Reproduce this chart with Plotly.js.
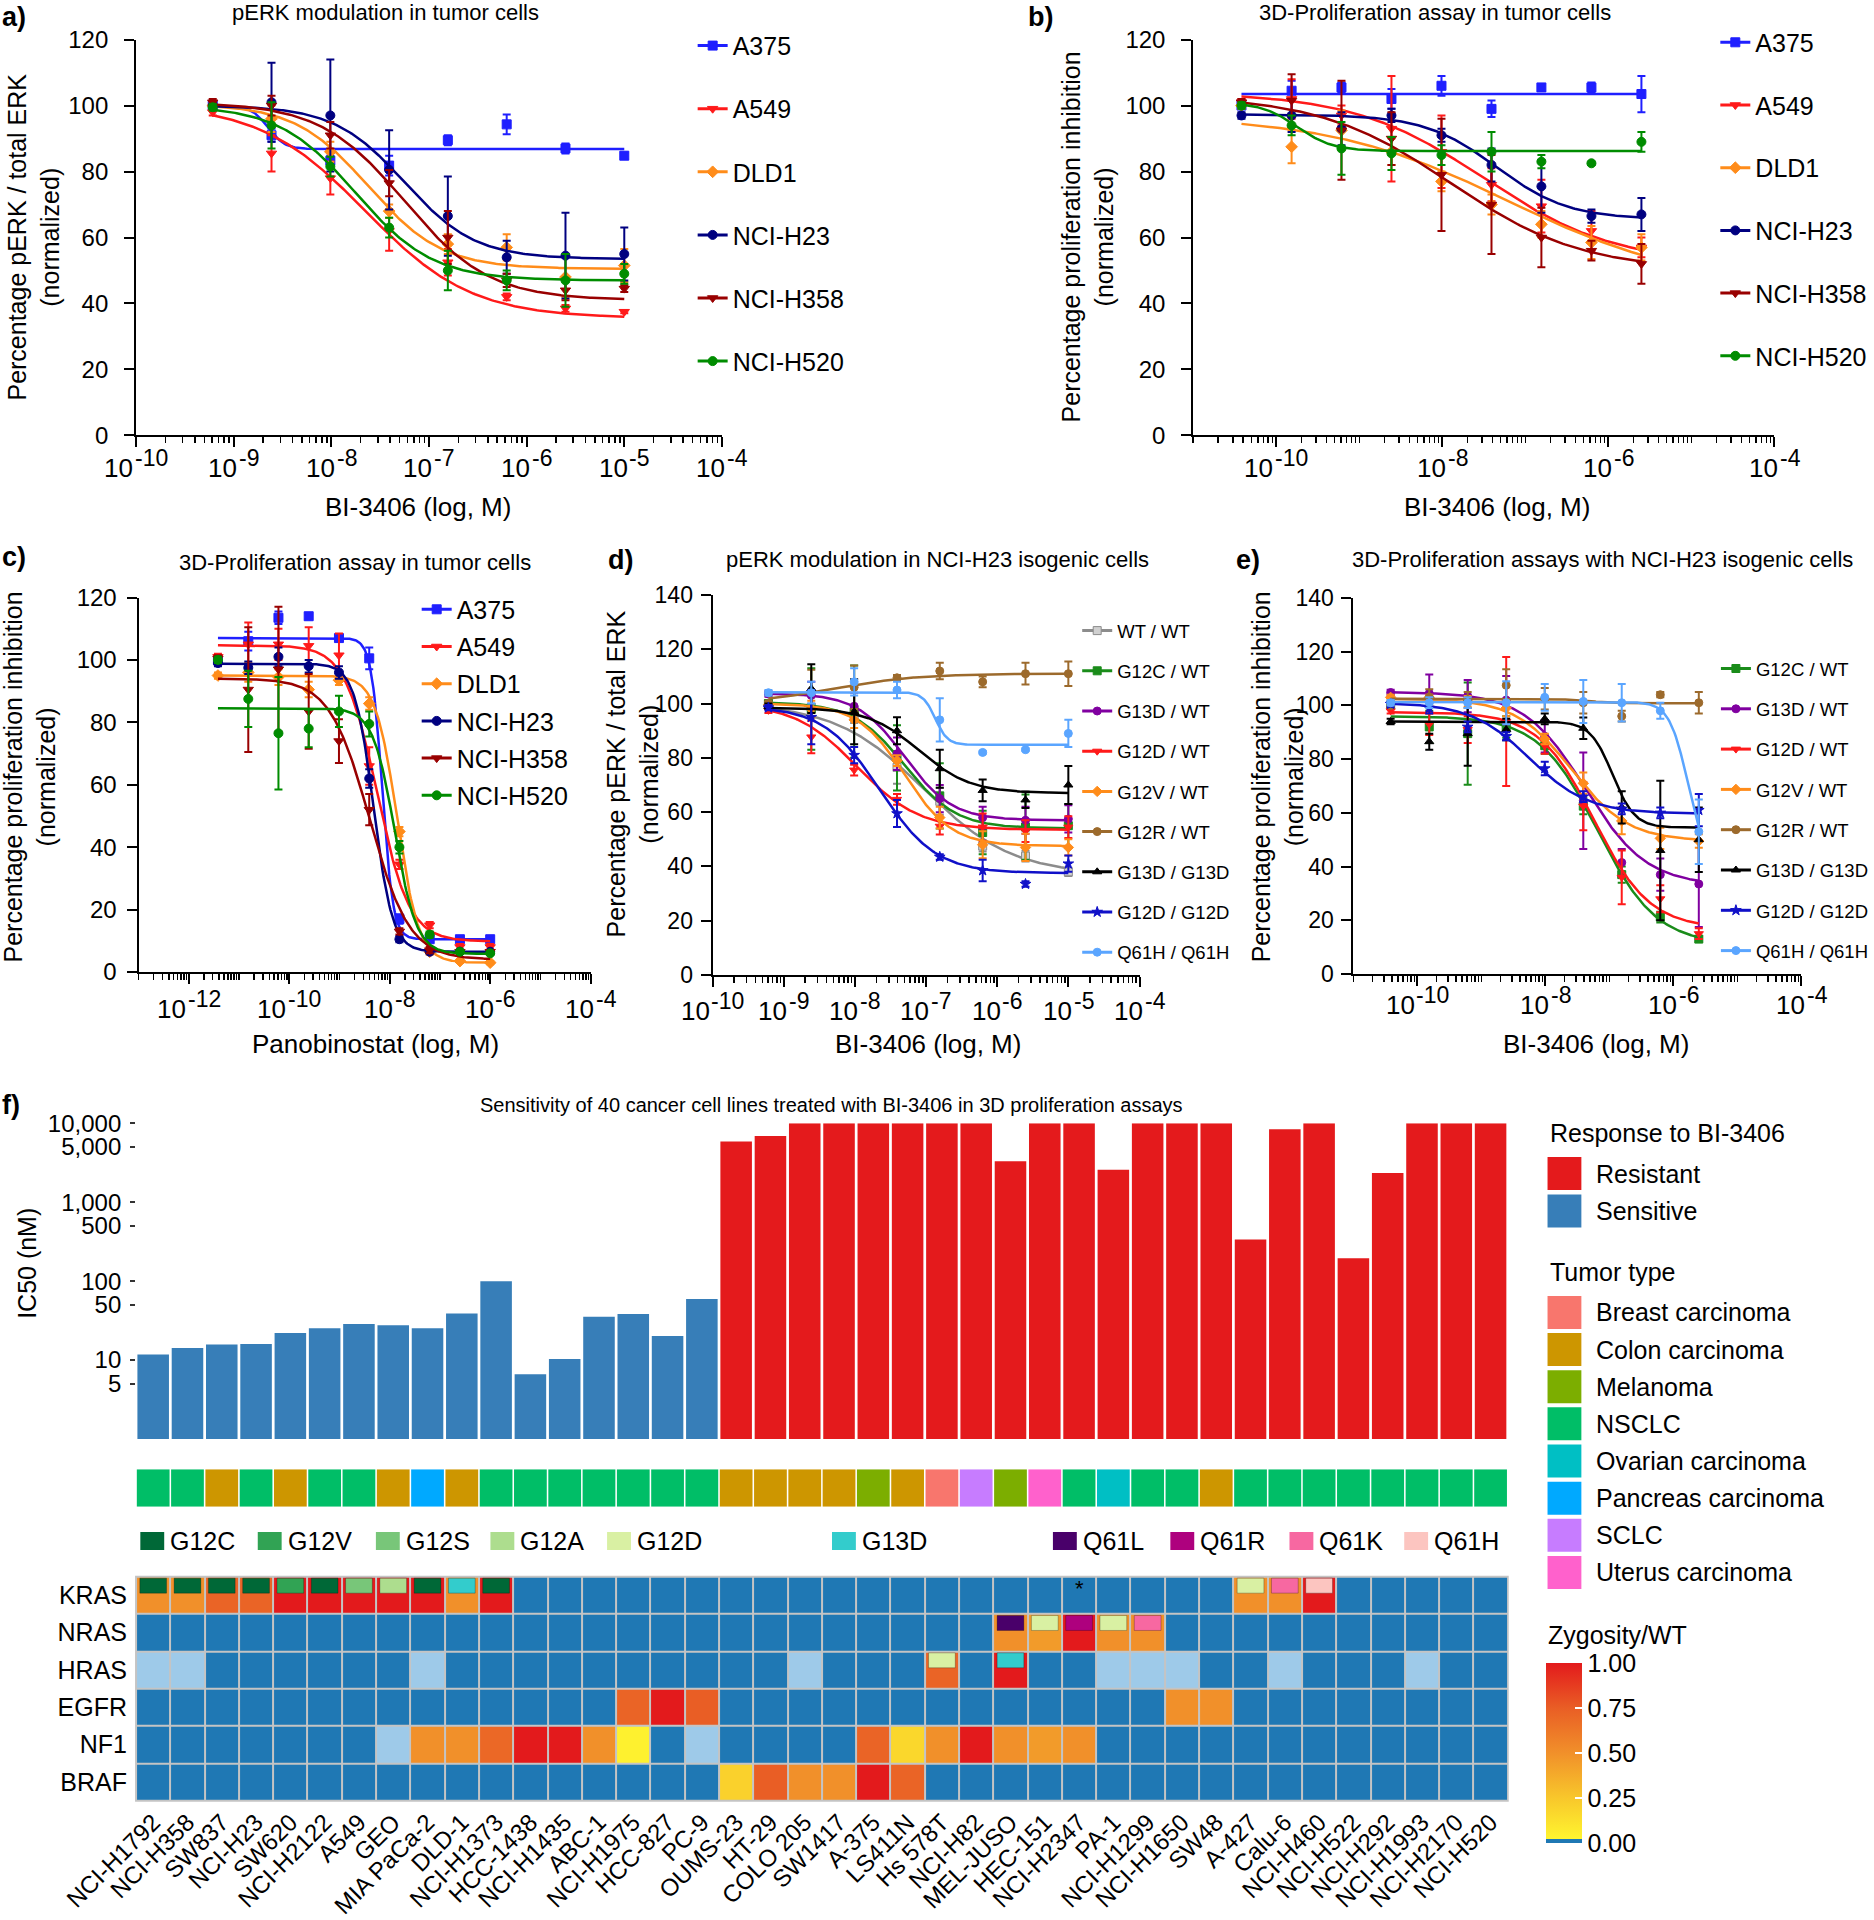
<!DOCTYPE html>
<html><head><meta charset="utf-8">
<script src="https://cdn.plot.ly/plotly-3.0.1.min.js"></script>
<style>html,body{margin:0;padding:0;background:#fff;}#chart{width:1874px;height:1920px;}</style>
</head><body><div id="chart"></div>
<script>
// ===================== DATA =====================
// concentrations (M)
const concA = [6.1e-10, 2.44e-9, 9.77e-9, 3.91e-8, 1.56e-7, 6.25e-7, 2.5e-6, 1e-5];
const concB = [3.81e-11, 1.53e-10, 6.1e-10, 2.44e-9, 9.77e-9, 3.91e-8, 1.56e-7, 6.25e-7, 2.5e-6];
const concC = [3.81e-12, 1.53e-11, 6.1e-11, 2.44e-10, 9.77e-10, 3.91e-9, 1.56e-8, 6.25e-8, 2.5e-7, 1e-6];

const cellLines = ['A375', 'A549', 'DLD1', 'NCI-H23', 'NCI-H358', 'NCI-H520'];
const isoLines = ['WT / WT', 'G12C / WT', 'G13D / WT', 'G12D / WT', 'G12V / WT', 'G12R / WT', 'G13D / G13D', 'G12D / G12D', 'Q61H / Q61H'];
const isoLinesE = ['G12C / WT', 'G13D / WT', 'G12D / WT', 'G12V / WT', 'G12R / WT', 'G13D / G13D', 'G12D / G12D', 'Q61H / Q61H'];

// decades labelled on the log-dose axes (exponents of 10)
const decadesA = [-10, -9, -8, -7, -6, -5, -4];
const decadesB = [-10, -8, -6, -4];
const decadesC = [-12, -10, -8, -6, -4];

// panel a: pERK modulation in tumor cells (mean, SD)
const a_mean = [
  [100, 91, 83.3, 81.8, 89.5, 94.3, 87, 84.8],
  [98, 85.5, 78, 62, 52.5, 42, 38.5, 37.5],
  [100, 96, 86, 68, 58, 57, 48, 51.5],
  [100, 101, 97, 80.5, 66.5, 54, 54.5, 55],
  [101, 100, 91, 76.5, 60, 47, 44, 44.5],
  [99.5, 94, 81.5, 63, 50, 47, 47, 49]];
const a_err = [
  [1, 2, 1.5, 3, 1.5, 3, 1.5, 1],
  [1, 5.5, 5, 6, 4, 1, 1, 0.5],
  [1, 4, 3, 2, 3, 4, 6, 5],
  [1, 12, 17, 12, 12, 5, 13, 8],
  [1, 3, 4, 4, 8, 2, 3, 1],
  [1, 7, 3, 3, 6, 3, 8, 3]];
// 4-parameter dose-response fit: [top, bottom, logEC50, hill]
const a_fit = [
  [100, 86.8, -8.65, 5], [100.5, 35.5, -7.65, 0.8], [100.5, 50.5, -7.62, 1.15],
  [100, 53.5, -7.25, 1.2], [101, 41, -7.25, 1.0], [100, 47, -7.75, 1.1]];

// panel b: 3D proliferation, BI-3406
const b_mean = [
  [100, 104.5, 105.5, 102, 106, 99, 105.5, 105.5, 103.5],
  [101, 102, 97, 93, 86, 76, 69.5, 62, 57],
  [100, 87.5, 92.5, 86, 77, 70, 64, 58.5, 57],
  [97, 97, 93, 97, 91, 82, 75.5, 66.5, 67],
  [101, 101.5, 92.5, 90, 79, 70, 60, 56, 52],
  [100, 94, 87, 85.5, 85, 86, 83, 82.5, 89]];
const b_err = [
  [1, 3, 1.5, 3, 3, 2.5, 1, 1.5, 5.5],
  [1, 6, 3, 16, 11, 5, 8, 6, 3],
  [1, 5, 6, 4, 3, 3, 4, 5, 4],
  [1, 5, 5, 2, 2, 5, 8, 2, 5],
  [1, 8, 15, 8, 17, 15, 9, 3, 6],
  [1, 3, 8, 5, 3, 6, 2, 0.5, 3]];
const b_fit = [
  [103.5, 103.5, -8, 1], [104, 52, -7.5, 0.55], [97, 45, -7.2, 0.4],
  [97.3, 65.5, -7.35, 1.0], [103, 50, -7.9, 0.55], [101, 86.2, -9.75, 2.0]];

// panel c: 3D proliferation, Panobinostat
const c_mean = [
  [100, 106, 113.5, 114, 107, 100.5, 17, 10.5, 10.5, 10.5],
  [101, 105, 105, 104.5, 101.5, 66, 34.5, 15, 8, 8],
  [95, 96, 94.5, 90.5, 93.5, 86, 45, 6.5, 3.5, 3],
  [99, 97.5, 101, 98, 96, 62, 10.5, 6.5, 6.5, 6.5],
  [100.5, 90.5, 97, 83.5, 74, 52, 13, 7, 6.5, 6.5],
  [100, 87.5, 76.5, 78, 83.5, 79.5, 40, 12, 6.5, 6]];
const c_err = [
  [1, 3, 2, 1, 1, 3.5, 1.5, 0.5, 0.5, 0.5],
  [1, 7, 5, 6, 7, 6, 1.5, 1, 1, 1],
  [1, 3, 2.5, 2.5, 1.5, 2, 1.5, 1, 0.5, 0.5],
  [1, 2, 3, 2, 2, 3, 1, 0.5, 0.5, 0.5],
  [1, 20, 20, 12, 7, 5, 1, 1, 0.5, 0.5],
  [1, 9, 18, 6, 5, 4, 2, 1, 0.5, 0.5]];
const c_fit = [
  [107, 10.5, -8.15, 4], [104.7, 9.8, -8.25, 1.35], [95, 3, -7.85, 2],
  [98.8, 6.5, -8.32, 2.3], [94, 4, -8.4, 1.1], [84.5, 5.8, -7.9, 2]];

// panel d: pERK in NCI-H23 isogenic cells
const d_mean = [
  [100, 98.7, 95.8, 76.5, 64, 47.5, 43.8, 38],
  [100, 98, 97, 80, 66, 52.5, 54.5, 55],
  [103.5, 103, 99, 81.5, 65, 58, 57, 57.5],
  [97.5, 87.7, 75.5, 64.7, 54.8, 54.5, 53, 54.5],
  [99.5, 98, 94, 79, 58, 48, 47, 47],
  [100, 104.5, 106, 109.5, 112, 108, 111, 111],
  [99, 105.5, 97, 90, 76, 68, 64.5, 70],
  [98.5, 95, 81, 59.5, 43.5, 38.5, 33.5, 41],
  [104, 104, 108, 105, 94, 82, 83, 89]];
const d_err = [
  [1, 4, 3, 6, 5, 2, 2, 1.5],
  [1, 15, 17, 12, 12, 8, 12, 8],
  [1, 5, 5, 6, 5, 4, 5, 5],
  [1, 6, 2, 2, 3, 5, 4, 4],
  [1, 3, 3, 2, 4, 5, 5, 3],
  [1, 8, 8, 1, 3, 2, 4, 4.5],
  [1, 9, 12, 5, 7, 4, 3, 7],
  [1, 10, 3, 5, 1, 4, 1, 3],
  [1, 4, 5, 3, 8, 0.5, 0.5, 5]];
const d_fit = [
  [100, 37, -7.03, 0.7], [100.5, 54, -7.3, 1.2], [103.8, 57, -7.3, 1.3],
  [100, 53.5, -7.97, 1.0], [100, 47.5, -7.3, 1.3], [100, 111, -8.29, 0.74],
  [98.5, 67, -7.1, 1.2], [99, 37.5, -7.65, 1.1], [104.2, 84.8, -6.87, 5]];

// panel e: 3D proliferation with NCI-H23 isogenic cells
const e_mean = [
  [100, 92, 89.5, 92, 85, 62.5, 37, 21.2, 13],
  [104.8, 104.5, 103.5, 102, 88.5, 64.5, 41.5, 37, 33.5],
  [98, 93, 91, 94, 85, 62.5, 36, 28, 15],
  [103, 103, 101.5, 99, 87.5, 71, 57, 50.5, 49.5],
  [100, 103, 102, 107.5, 102.5, 101, 96, 104, 101],
  [94, 86.5, 89.5, 91, 95, 91.5, 62, 46, 50],
  [100.5, 99, 92, 88.5, 76.5, 66, 61.5, 60, 61],
  [101, 101, 101, 101, 103, 101.5, 101, 98, 53]];
const e_err = [
  [1, 6, 19, 4, 3, 3, 3, 2, 1],
  [1, 7, 6, 9, 6, 18, 5, 6, 16],
  [1, 4, 5, 24, 3, 9, 10, 5, 2],
  [1, 1, 2, 3, 2, 4, 5, 4, 2.5],
  [1, 3, 3, 6, 4, 4, 2, 1, 4],
  [1, 3, 12, 4, 2, 4, 6, 26, 12],
  [1, 2, 2, 1.5, 2.5, 2, 2, 2, 6],
  [1, 2, 2, 8, 5, 8, 7, 3, 12]];
const e_fit = [
  [96, 11, -7.185, 0.94], [105, 33, -7.374, 0.906], [97.5, 17, -7.237, 1.0],
  [102.5, 49.5, -7.587, 0.98], [102.5, 100.8, -7.35, 2], [94, 54.5, -6.95, 2.5],
  [101, 59.7, -8.25, 0.95], [101.3, 40, -5.77, 3]];

// panel f
const f_cells = ['NCI-H1792', 'NCI-H358', 'SW837', 'NCI-H23', 'SW620', 'NCI-H2122', 'A549', 'GEO', 'MIA PaCa-2', 'DLD-1',
  'NCI-H1373', 'HCC-1438', 'NCI-H1435', 'ABC-1', 'NCI-H1975', 'HCC-827', 'PC-9', 'OUMS-23', 'HT-29', 'COLO 205',
  'SW1417', 'A-375', 'LS411N', 'Hs 578T', 'NCI-H82', 'MEL-JUSO', 'HEC-151', 'NCI-H2347', 'PA-1', 'NCI-H1299',
  'NCI-H1650', 'SW48', 'A-427', 'Calu-6', 'NCI-H460', 'NCI-H522', 'NCI-H292', 'NCI-H1993', 'NCI-H2170', 'NCI-H520'];
const f_ic50 = [11.8, 14.2, 15.8, 16, 22, 25.3, 28.7, 27.6, 25.3, 38.8,
  99.5, 6.6, 10.3, 35.5, 38.4, 20.2, 59.5, 5870, 6920, 10000,
  10000, 10000, 10000, 10000, 10000, 3300, 10000, 10000, 2570, 10000,
  10000, 10000, 336, 8410, 10000, 195, 2350, 10000, 10000, 10000];
const f_response = ['Sensitive', 'Sensitive', 'Sensitive', 'Sensitive', 'Sensitive', 'Sensitive', 'Sensitive', 'Sensitive', 'Sensitive', 'Sensitive',
  'Sensitive', 'Sensitive', 'Sensitive', 'Sensitive', 'Sensitive', 'Sensitive', 'Sensitive', 'Resistant', 'Resistant', 'Resistant',
  'Resistant', 'Resistant', 'Resistant', 'Resistant', 'Resistant', 'Resistant', 'Resistant', 'Resistant', 'Resistant', 'Resistant',
  'Resistant', 'Resistant', 'Resistant', 'Resistant', 'Resistant', 'Resistant', 'Resistant', 'Resistant', 'Resistant', 'Resistant'];
const f_tumor = ['NSCLC', 'NSCLC', 'Colon carcinoma', 'NSCLC', 'Colon carcinoma', 'NSCLC', 'NSCLC', 'Colon carcinoma', 'Pancreas carcinoma', 'Colon carcinoma',
  'NSCLC', 'NSCLC', 'NSCLC', 'NSCLC', 'NSCLC', 'NSCLC', 'NSCLC', 'Colon carcinoma', 'Colon carcinoma', 'Colon carcinoma',
  'Colon carcinoma', 'Melanoma', 'Colon carcinoma', 'Breast carcinoma', 'SCLC', 'Melanoma', 'Uterus carcinoma', 'NSCLC', 'Ovarian carcinoma', 'NSCLC',
  'NSCLC', 'Colon carcinoma', 'NSCLC', 'NSCLC', 'NSCLC', 'NSCLC', 'NSCLC', 'NSCLC', 'NSCLC', 'NSCLC'];
const responses = ['Resistant', 'Sensitive'];
const tumorTypes = ['Breast carcinoma', 'Colon carcinoma', 'Melanoma', 'NSCLC', 'Ovarian carcinoma', 'Pancreas carcinoma', 'SCLC', 'Uterus carcinoma'];
const genes = ['KRAS', 'NRAS', 'HRAS', 'EGFR', 'NF1', 'BRAF'];
// zygosity / WT ; null = light-blue (other alteration) cell
const zyg_KRAS = [.5, .5, .72, .72, 1, 1, 1, 1, 1, .5, 1, 0, 0, 0, 0, 0, 0, 0, 0, 0, 0, 0, 0, 0, 0, 0, 0, 0, 0, 0, 0, 0, .5, .5, 1, 0, 0, 0, 0, 0];
const zyg_NRAS = [0, 0, 0, 0, 0, 0, 0, 0, 0, 0, 0, 0, 0, 0, 0, 0, 0, 0, 0, 0, 0, 0, 0, 0, 0, .5, .45, 1, .5, .5, 0, 0, 0, 0, 0, 0, 0, 0, 0, 0];
const zyg_HRAS = [null, null, 0, 0, 0, 0, 0, 0, null, 0, 0, 0, 0, 0, 0, 0, 0, 0, 0, null, 0, 0, 0, .72, 0, 1, 0, 0, null, null, null, 0, 0, null, 0, 0, 0, null, 0, 0];
const zyg_EGFR = [0, 0, 0, 0, 0, 0, 0, 0, 0, 0, 0, 0, 0, 0, .72, 1, .75, 0, 0, 0, 0, 0, 0, 0, 0, 0, 0, 0, 0, 0, .5, .5, 0, 0, 0, 0, 0, 0, 0, 0];
const zyg_NF1 = [0, 0, 0, 0, 0, 0, 0, null, .5, .5, .7, 1, 1, .5, .04, 0, null, 0, 0, 0, 0, .72, .17, .5, 1, .5, .45, .5, 0, 0, 0, 0, 0, 0, 0, 0, 0, 0, 0, 0];
const zyg_BRAF = [0, 0, 0, 0, 0, 0, 0, 0, 0, 0, 0, 0, 0, 0, 0, 0, 0, .2, .75, .5, .5, 1, .72, 0, 0, 0, 0, 0, 0, 0, 0, 0, 0, 0, 0, 0, 0, 0, 0, 0];
const mutTypes = ['G12C', 'G12V', 'G12S', 'G12A', 'G12D', 'G13D', 'Q61L', 'Q61R', 'Q61K', 'Q61H'];
const mut_gene = ['KRAS', 'KRAS', 'KRAS', 'KRAS', 'KRAS', 'KRAS', 'KRAS', 'KRAS', 'KRAS', 'KRAS', 'KRAS', 'KRAS', 'KRAS', 'KRAS',
  'NRAS', 'NRAS', 'NRAS', 'NRAS', 'NRAS', 'HRAS', 'HRAS'];
const mut_cell = ['NCI-H1792', 'NCI-H358', 'SW837', 'NCI-H23', 'SW620', 'NCI-H2122', 'A549', 'GEO', 'MIA PaCa-2', 'DLD-1', 'NCI-H1373', 'A-427', 'Calu-6', 'NCI-H460',
  'MEL-JUSO', 'HEC-151', 'NCI-H2347', 'PA-1', 'NCI-H1299', 'Hs 578T', 'MEL-JUSO'];
const mut_type = ['G12C', 'G12C', 'G12C', 'G12C', 'G12V', 'G12C', 'G12S', 'G12A', 'G12C', 'G13D', 'G12C', 'G12D', 'Q61K', 'Q61H',
  'Q61L', 'G12D', 'Q61R', 'G12D', 'Q61K', 'G12D', 'G13D'];
const asteriskCell = 'NCI-H2347', asteriskGene = 'KRAS';

// ===================== STYLE =====================
const FONT = 'Liberation Sans, Arial, Helvetica, sans-serif';
const cellColors = ['#1f1fff', '#ff1a1a', '#ff8c1a', '#000080', '#990000', '#008c00'];
const cellSymbols = ['square', 'triangle-down', 'diamond', 'circle', 'triangle-down', 'circle'];
const isoColors = ['#8c8c8c', '#1a8c1a', '#8000a0', '#ff1a1a', '#ff8c1a', '#9c6a2c', '#000000', '#1010c8', '#5aa5ff'];
const isoFills = ['#d0d0d0', '#1a8c1a', '#8000a0', '#ff1a1a', '#ff8c1a', '#9c6a2c', '#000000', '#1010c8', '#5aa5ff'];
const isoSymbols = ['square', 'square', 'circle', 'triangle-down', 'diamond', 'circle', 'triangle-up', 'star', 'circle'];
const responseColors = ['#e41a1c', '#377eb8'];
const tumorColors = ['#f8766d', '#cd9600', '#7cae00', '#00be67', '#00bfc4', '#00a9ff', '#c77cff', '#ff61cc'];
const mutColors = ['#006837', '#31a354', '#78c679', '#addd8e', '#d9f0a3', '#33cccc', '#49006a', '#ae017e', '#f768a1', '#fcc5c0'];
const zygScale = [[0, '#1f78b4'], [0.02, '#1f78b4'], [0.021, '#fff52f'], [0.25, '#f8c72b'], [0.5, '#f1902a'], [0.75, '#e95e25'], [1, '#e31a1c']];
const lightBlue = '#9ecae9';

// ===================== HELPERS =====================
const W = 1874, H = 1920;
const PX = v => v / W, PY = v => 1 - v / H;
const domX = (a, b) => [a / W, b / W];
const domY = (top, bottom) => [1 - bottom / H, 1 - top / H];
function logistic(p, lx) { return p[1] + (p[0] - p[1]) / (1 + Math.pow(10, p[3] * (lx - p[2]))); }

function dosePanel(xa, ya, leg, names, conc, mean, err, fit, colors, fills, symbols, msize) {
  const out = [];
  const lmin = Math.log10(conc[0]), lmax = Math.log10(conc[conc.length - 1]);
  names.forEach((nm, i) => {
    const cx = [], cy = [];
    for (let k = 0; k <= 240; k++) {
      const lx = lmin + (lmax - lmin) * k / 240;
      cx.push(Math.pow(10, lx)); cy.push(logistic(fit[i], lx));
    }
    const mk = { symbol: symbols[i], size: msize, color: fills[i], line: { color: colors[i], width: 1 } };
    out.push({ type: 'scatter', mode: 'lines', x: cx, y: cy, xaxis: xa, yaxis: ya, line: { color: colors[i], width: 2.5 }, showlegend: false, hoverinfo: 'skip' });
    out.push({ type: 'scatter', mode: 'markers', x: conc, y: mean[i], xaxis: xa, yaxis: ya, marker: mk,
      error_y: { type: 'data', array: err[i], visible: true, color: colors[i], thickness: 2, width: 4 }, showlegend: false, hoverinfo: 'skip' });
    out.push({ type: 'scatter', mode: 'lines+markers', x: [null], y: [null], xaxis: xa, yaxis: ya, name: nm, legend: leg,
      legendgroup: leg + '_' + i, line: { color: colors[i], width: 3 }, marker: mk, showlegend: true, hoverinfo: 'skip' });
  });
  return out;
}

function doseX(s) {
  const minor = [];
  for (let e = Math.floor(s.range[0]); e < Math.ceil(s.range[1]); e++) {
    for (let m = 1; m <= 9; m++) {
      if (m === 1 && s.labelled.indexOf(e) >= 0) continue;
      if (e + Math.log10(m) < s.range[0] - 1e-6) continue;
      minor.push(m * Math.pow(10, e));
    }
  }
  return {
    domain: domX(s.d0, s.d1), type: 'log', range: s.range, anchor: s.anchor,
    tickmode: 'array', tickvals: s.labelled.map(e => Math.pow(10, e)), showticklabels: false,
    ticks: 'outside', ticklen: 10, tickwidth: 2, tickcolor: '#000',
    showline: true, linecolor: '#000', linewidth: 2, showgrid: false, zeroline: false,
    minor: { tickmode: 'array', tickvals: minor, ticks: 'outside', ticklen: 6, tickwidth: 1.5, tickcolor: '#000', showgrid: false },
    fixedrange: true
  };
}
function valY(top, bottom, range, anchor, fs, standoff) {
  return {
    domain: domY(top, bottom), range: range, anchor: anchor, tickmode: 'linear', tick0: 0, dtick: 20,
    ticks: 'outside', ticklen: 10, tickwidth: 2, tickcolor: '#000', ticklabelstandoff: standoff,
    showline: true, linecolor: '#000', linewidth: 2, showgrid: false, zeroline: false,
    tickfont: { family: FONT, size: fs, color: '#000' }, fixedrange: true
  };
}
function legendAt(textX, firstCenter, fs, spacing) {
  const h = fs * 1.3 + 3;
  return {
    x: PX(textX - 40), y: PY(firstCenter - h / 2 - 5), xanchor: 'left', yanchor: 'top', xref: 'paper', yref: 'paper',
    orientation: 'v', bgcolor: 'rgba(0,0,0,0)', borderwidth: 0, font: { family: FONT, size: fs, color: '#000' },
    tracegroupgap: Math.max(0, spacing - h), traceorder: 'grouped', itemclick: false, itemdoubleclick: false
  };
}

// ===================== TRACES =====================
let traces = [];
traces = traces.concat(dosePanel('x', 'y', 'legend', cellLines, concA, a_mean, a_err, a_fit, cellColors, cellColors, cellSymbols, 9));
traces = traces.concat(dosePanel('x2', 'y2', 'legend2', cellLines, concB, b_mean, b_err, b_fit, cellColors, cellColors, cellSymbols, 9));
traces = traces.concat(dosePanel('x3', 'y3', 'legend3', cellLines, concC, c_mean, c_err, c_fit, cellColors, cellColors, cellSymbols, 9));
traces = traces.concat(dosePanel('x4', 'y4', 'legend4', isoLines, concA, d_mean, d_err, d_fit, isoColors, isoFills, isoSymbols, 8));
traces = traces.concat(dosePanel('x5', 'y5', 'legend5', isoLinesE, concB, e_mean, e_err, e_fit,
  isoColors.slice(1), isoFills.slice(1), isoSymbols.slice(1), 8));

// f: IC50 bars
const colIdx = f_cells.map((c, i) => i);
responses.forEach((r, k) => {
  const idx = colIdx.filter(i => f_response[i] === r);
  traces.push({ type: 'bar', x: idx, y: idx.map(i => f_ic50[i]), xaxis: 'x6', yaxis: 'y6', width: 0.92,
    marker: { color: responseColors[k], line: { width: 0 } }, showlegend: false, hoverinfo: 'skip' });
});
// f: tumor type strip
tumorTypes.forEach((t, k) => {
  const idx = colIdx.filter(i => f_tumor[i] === t);
  if (!idx.length) return;
  traces.push({ type: 'bar', x: idx, y: idx.map(() => 1), base: 0, xaxis: 'x7', yaxis: 'y7', width: 0.955,
    marker: { color: tumorColors[k], line: { width: 0 } }, showlegend: false, hoverinfo: 'skip' });
});
// f: zygosity heatmap
const zyg = [zyg_KRAS, zyg_NRAS, zyg_HRAS, zyg_EGFR, zyg_NF1, zyg_BRAF];
const rowIdx = genes.map((g, i) => i);
traces.push({ type: 'heatmap', x: colIdx, y: rowIdx, z: zyg.map(r => r.map(v => v === null ? 1 : null)),
  xaxis: 'x8', yaxis: 'y8', colorscale: [[0, lightBlue], [1, lightBlue]], zmin: 0, zmax: 1, showscale: false,
  xgap: 2, ygap: 2, hoverinfo: 'skip' });
traces.push({ type: 'heatmap', x: colIdx, y: rowIdx, z: zyg, xaxis: 'x8', yaxis: 'y8', colorscale: zygScale,
  zmin: 0, zmax: 1, xgap: 2, ygap: 2, hoverinfo: 'skip', showscale: true,
  colorbar: { x: PX(1553), xanchor: 'left', y: PY(1753), yanchor: 'middle', len: 180, lenmode: 'pixels',
    thickness: 36, thicknessmode: 'pixels', xpad: 0, ypad: 0, outlinewidth: 0,
    tickmode: 'array', tickvals: [0, 0.25, 0.5, 0.75, 1], ticktext: ['0.00', '0.25', '0.50', '0.75', '1.00'],
    ticks: 'inside', ticklen: 7, tickwidth: 2, tickcolor: '#fff',
    tickfont: { family: FONT, size: 25, color: '#000' } } });
// f: mutation markers inside cells
mutTypes.forEach((m, k) => {
  const idx = mut_type.map((v, i) => v === m ? i : -1).filter(i => i >= 0);
  if (!idx.length) return;
  traces.push({ type: 'bar', x: idx.map(i => f_cells.indexOf(mut_cell[i])), y: idx.map(() => 0.40),
    base: idx.map(i => genes.indexOf(mut_gene[i]) - 0.46), xaxis: 'x8', yaxis: 'y8', width: 0.78,
    marker: { color: mutColors[k], line: { color: 'rgba(0,0,0,0.25)', width: 1 } }, showlegend: false, hoverinfo: 'skip' });
});

// ===================== LAYOUT =====================
const doseAxes = [
  { key: 'xaxis', d0: 136.7, d1: 725.4, range: [-10, -4], labelled: decadesA, anchor: 'y', labelY: 468 },
  { key: 'xaxis2', d0: 1199, d1: 1783, range: [-11, -4], labelled: decadesB, anchor: 'y2', labelY: 468 },
  { key: 'xaxis3', d0: 139.2, d1: 593.5, range: [-13, -4], labelled: decadesC, anchor: 'y3', labelY: 1009 },
  { key: 'xaxis4', d0: 716, d1: 1145, range: [-10, -4], labelled: decadesA, anchor: 'y4', labelY: 1011 },
  { key: 'xaxis5', d0: 1360, d1: 1810, range: [-11, -4], labelled: decadesB, anchor: 'y5', labelY: 1005 }];
const fBarL = 136.7, fBarR = 1515;
const layout = {
  width: W, height: H, margin: { l: 0, r: 0, t: 0, b: 0, pad: 0 },
  paper_bgcolor: '#fff', plot_bgcolor: 'rgba(0,0,0,0)', barmode: 'overlay', hovermode: false, showlegend: true,
  font: { family: FONT, color: '#000', size: 22 },
  yaxis: valY(39.6, 435.4, [0, 120], 'x', 24, 11),
  yaxis2: valY(39.6, 435.4, [0, 120], 'x2', 24, 11),
  yaxis3: valY(597.5, 972, [0, 120], 'x3', 24, 5),
  yaxis4: valY(595, 975, [0, 140], 'x4', 23, 3),
  yaxis5: valY(598, 974, [0, 140], 'x5', 23, 3),
  xaxis6: { domain: domX(fBarL, fBarR), range: [-0.5, 39.5], anchor: 'y6', visible: false, fixedrange: true },
  yaxis6: { domain: domY(1123.3, 1439), type: 'log', range: [0, 4], anchor: 'x6',
    tickmode: 'array', tickvals: [5, 10, 50, 100, 500, 1000, 5000, 10000],
    ticktext: ['5', '10', '50', '100', '500', '1,000', '5,000', '10,000'],
    ticks: 'outside', ticklen: 5, tickwidth: 2, tickcolor: '#333', ticklabelstandoff: 4,
    showline: false, showgrid: false, zeroline: false, tickfont: { family: FONT, size: 24, color: '#000' }, fixedrange: true },
  xaxis7: { domain: domX(fBarL, fBarR), range: [-0.5, 39.5], anchor: 'y7', visible: false, fixedrange: true },
  yaxis7: { domain: domY(1469.3, 1506.7), range: [0, 1], anchor: 'x7', visible: false, fixedrange: true },
  xaxis8: { domain: domX(fBarL, fBarR), range: [-0.5, 39.5], anchor: 'y8', tickmode: 'array', tickvals: colIdx,
    ticktext: f_cells, tickangle: -45, ticks: '', ticklabelstandoff: 2, showline: false, showgrid: false, zeroline: false,
    tickfont: { family: FONT, size: 24, color: '#000' }, fixedrange: true },
  yaxis8: { domain: domY(1576.7, 1800.7), range: [5.5, -0.5], anchor: 'x8', tickmode: 'array', tickvals: rowIdx,
    ticktext: genes, ticks: '', ticklabelstandoff: 8, showline: false, showgrid: false, zeroline: false,
    tickfont: { family: FONT, size: 25, color: '#000' }, fixedrange: true },
  legend: legendAt(736, 45.6, 25, 63.1),
  legend2: legendAt(1763.6, 42.3, 25, 62.7),
  legend3: legendAt(458.7, 609.3, 25, 37.2),
  legend4: legendAt(1122.4, 630.6, 18.5, 40.2),
  legend5: legendAt(1764.2, 668.5, 18.5, 40.3),
  annotations: [], shapes: []
};
doseAxes.forEach(s => { layout[s.key] = doseX(s); });

function ann(text, x, y, size, opts) {
  layout.annotations.push(Object.assign({ text: text, x: PX(x), y: PY(y), xref: 'paper', yref: 'paper', showarrow: false,
    xanchor: 'center', yanchor: 'middle', font: { family: FONT, size: size, color: '#000' } }, opts || {}));
}
// log-axis decade labels: "10" with a raised, near full-size exponent (as in the original)
doseAxes.forEach(s => s.labelled.forEach(e => {
  const xp = s.d0 + (e - s.range[0]) / (s.range[1] - s.range[0]) * (s.d1 - s.d0);
  const expTxt = String(e);
  const wBase = 26 * 1.112, wExp = 23 * (0.333 + 0.556 * (expTxt.length - 1)), gap = 2;
  const left = xp - (wBase + gap + wExp) / 2;
  ann('10', left - 2, s.labelY, 26, { xanchor: 'left' });
  ann(expTxt, left + wBase + gap - 2, s.labelY - 10, 23, { xanchor: 'left' });
}));
// panel labels
[['a)', 0, 17], ['b)', 1031, 17], ['c)', 0, 557], ['d)', 609, 560], ['e)', 1240, 560], ['f)', 0, 1105]].forEach(p =>
  ann('<b>' + p[0] + '</b>', p[1], p[2], 27, { xanchor: 'left' }));
// titles
ann('pERK modulation in tumor cells', 387.6, 13, 22);
ann('3D-Proliferation assay in tumor cells', 1441.7, 13, 22);
ann('3D-Proliferation assay in tumor cells', 357, 562, 22);
ann('pERK modulation in NCI-H23 isogenic cells', 942, 559, 22);
ann('3D-Proliferation assays with NCI-H23 isogenic cells', 1610, 559, 22);
ann('Sensitivity of 40 cancer cell lines treated with BI-3406 in 3D proliferation assays', 836, 1105, 20);
// axis titles
ann('BI-3406 (log, M)', 419.7, 507, 26);
ann('BI-3406 (log, M)', 1504.5, 507, 26);
ann('Panobinostat (log, M)', 377.6, 1043.7, 26);
ann('BI-3406 (log, M)', 932.7, 1043.7, 26);
ann('BI-3406 (log, M)', 1603.7, 1043.7, 26);
ann('Percentage pERK / total ERK<br>(normalized)', 34, 236.7, 25, { textangle: -90 });
ann('Percentage proliferation inhibition<br>(normalized)', 1093, 236.7, 25, { textangle: -90 });
ann('Percentage proliferation inhibition<br>(normalized)', 30, 776.6, 25, { textangle: -90 });
ann('Percentage pERK / total ERK<br>(normalized)', 636.5, 774, 25, { textangle: -90 });
ann('Percentage proliferation inhibition<br>(normalized)', 1284, 776.5, 25, { textangle: -90 });
ann('IC50 (nM)', 27, 1263, 25, { textangle: -90 });

// f legends (custom, large swatches)
function swatch(x0, y0, w, h, color) {
  layout.shapes.push({ type: 'rect', xref: 'paper', yref: 'paper', x0: PX(x0), x1: PX(x0 + w), y0: PY(y0 + h), y1: PY(y0),
    fillcolor: color, line: { width: 0 }, layer: 'above' });
}
ann('Response to BI-3406', 1555, 1132.7, 25, { xanchor: 'left' });
const respCenters = [1173.5, 1211];
responses.forEach((r, k) => { swatch(1555, respCenters[k] - 16.5, 34, 33, responseColors[k]); ann(r, 1602, respCenters[k], 25, { xanchor: 'left' }); });
ann('Tumor type', 1555, 1271.7, 25, { xanchor: 'left' });
tumorTypes.forEach((t, k) => { const cy = 1312.4 + 37.15 * k; swatch(1555, cy - 16.5, 34, 33, tumorColors[k]); ann(t, 1602, cy, 25, { xanchor: 'left' }); });
ann('Zygosity/WT', 1553, 1635, 25, { xanchor: 'left' });
// mutation legend row
const mutLegendX = [141, 259, 377.7, 492.8, 610, 836, 1058, 1176, 1295.7, 1411];
mutTypes.forEach((m, k) => { swatch(mutLegendX[k], 1532, 24, 18, mutColors[k]); ann(m, mutLegendX[k] + 28, 1541, 25, { xanchor: 'left' }); });
// heatmap grid background
layout.shapes.push({ type: 'rect', xref: 'paper', yref: 'paper', x0: PX(fBarL - 1), x1: PX(fBarR + 1), y0: PY(1801.7), y1: PY(1575.7),
  fillcolor: '#c4c4c4', line: { width: 0 }, layer: 'below' });
// asterisk
layout.annotations.push({ text: '*', x: f_cells.indexOf(asteriskCell), y: genes.indexOf(asteriskGene) - 0.18, xref: 'x8', yref: 'y8',
  showarrow: false, font: { family: FONT, size: 22, color: '#000' } });

Plotly.newPlot('chart', traces, layout, { displayModeBar: false, staticPlot: true });
</script>
</body></html>
